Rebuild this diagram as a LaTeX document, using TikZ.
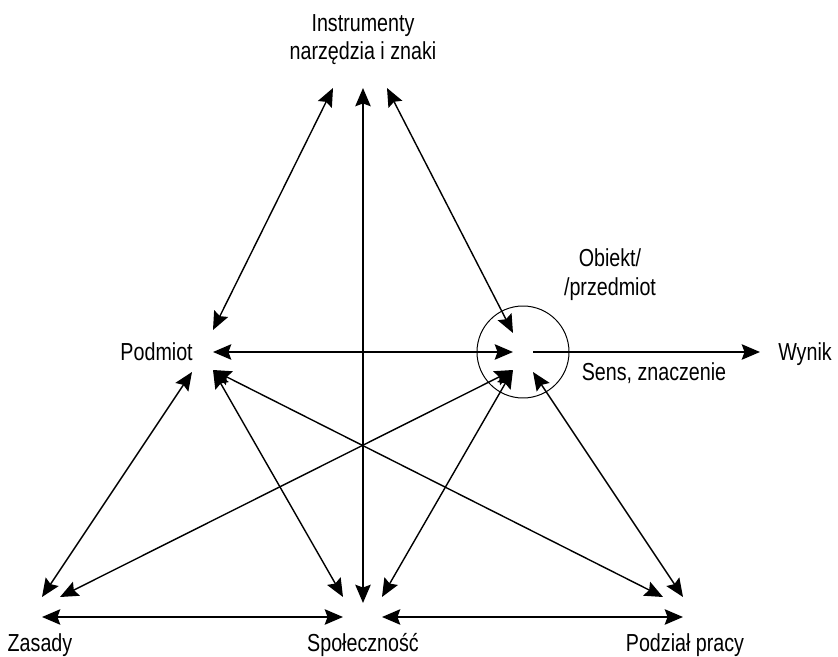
\documentclass[tikz,border=0pt]{standalone}
\usepackage{fontspec}
\setmainfont[FakeStretch=0.8]{Liberation Sans}
\usetikzlibrary{arrows.meta}

\begin{document}
\begin{tikzpicture}[x = 0.025cm, y = -0.025cm,
								lbl/.style = {inner sep = 0pt, anchor = base,
								font = \fontsize{17.5}{20}\selectfont},
								dbl/.style = {line width = 1pt, {Stealth[length = 13pt, width = 11pt, inset = 2pt]}-{Stealth[length = 13pt, width = 11pt, inset = 2pt]}},
								sgl/.style = {line width = 1pt, -{Stealth[length = 13pt, width = 11pt, inset = 2pt]}},
								]
				\useasboundingbox (0,0) rectangle (838,657);

				\node [lbl, align = center] (instr) at (363,60) {Instrumenty\\narzędzia i znaki};
				\node [lbl, anchor = base east] (podm) at (193,360) {Podmiot};
				\node [lbl, align = center] (obj) at (610,295) {Obiekt/\\/przedmiot};
				\node [lbl, anchor = base west] (wynik) at (778,360) {Wynik};
				\node [lbl] (sens) at (654,380) {Sens, znaczenie};
				\node [lbl] (zas) at (40,651) {Zasady};
				\node [lbl] (spol) at (363,651) {Społeczność};
				\node [lbl] (podz) at (685,651) {Podział pracy};

				\node [circle, draw, line width = 0.7pt, minimum size = 92*0.025cm, inner sep = 0pt] (kolo) at (523,352) {};

				\coordinate (i_1) at (333,88);
				\coordinate (i_2) at (363,88);
				\coordinate (i_3) at (387,88);

				\coordinate (p_1) at (213,330);
				\coordinate (p_2) at (213,352);
				\coordinate (p_3) at (192,372);
				\coordinate (p_4) at (213,370);

				\coordinate (o_1) at (513,333);
				\coordinate (o_2) at (513,352);
				\coordinate (o_3) at (513,370);
				\coordinate (o_4) at (533,372);
				\coordinate (o_5) at (533,352);
				\coordinate (w_1) at (760,352);

				\coordinate (z_1) at (42,597);
				\coordinate (z_2) at (60,597);
				\coordinate (z_3) at (42,617);

				\coordinate (s_1) at (343,597);
				\coordinate (s_2) at (363,603);
				\coordinate (s_3) at (382,597);
				\coordinate (s_4) at (343,617);
				\coordinate (s_5) at (382,617);

				\coordinate (d_1) at (663,597);
				\coordinate (d_2) at (683,597);
				\coordinate (d_3) at (683,617);

				\draw [dbl] (i_1) -- (p_1);
				\draw [dbl] (i_2) -- (s_2);
				\draw [dbl] (i_3) -- (o_1);
				\draw [dbl] (p_2) -- (o_2);
				\draw [dbl] (p_3) -- (z_1);
				\draw [dbl] (p_4) -- (s_1);
				\draw [dbl] (p_4) -- (d_1);
				\draw [dbl] (o_3) -- (z_2);
				\draw [dbl] (o_3) -- (s_3);
				\draw [dbl] (o_4) -- (d_2);
				\draw [sgl] (o_5) -- (w_1);
				\draw [dbl] (z_3) -- (s_4);
				\draw [dbl] (s_5) -- (d_3);
			\end{tikzpicture}
\end{document}
